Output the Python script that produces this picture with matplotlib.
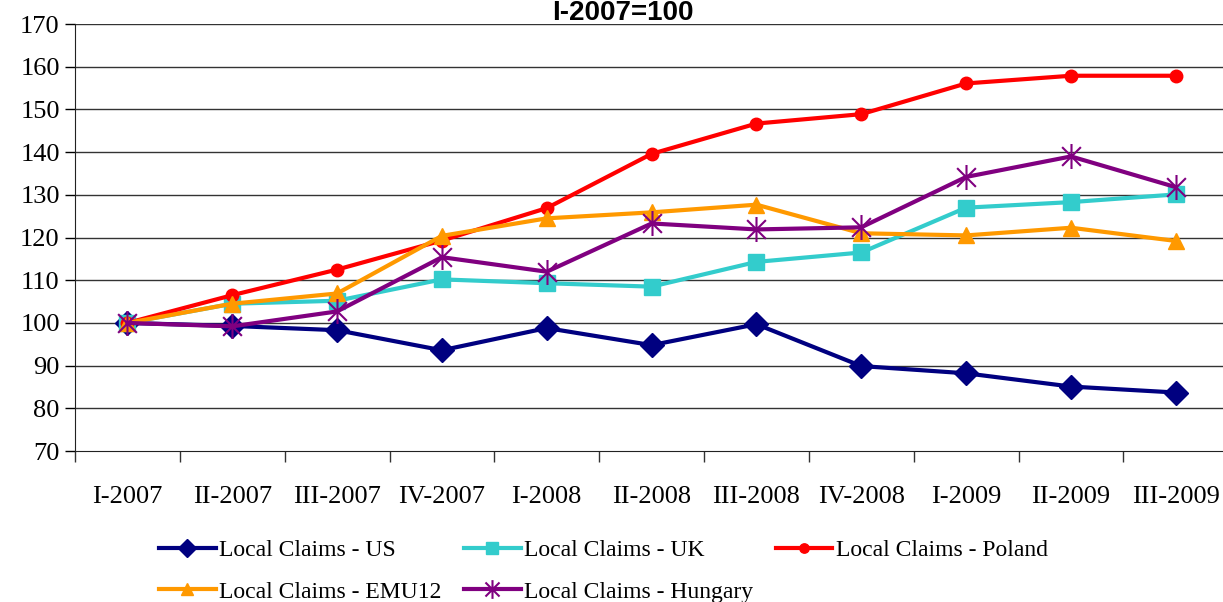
import matplotlib
matplotlib.use("Agg")
import matplotlib.pyplot as plt
from matplotlib.path import Path

categories = ["I-2007", "II-2007", "III-2007", "IV-2007", "I-2008", "II-2008",
              "III-2008", "IV-2008", "I-2009", "II-2009", "III-2009"]
us = [100, 99.3, 98.3, 93.6, 98.8, 94.8, 99.7, 89.9, 88.2, 85.1, 83.7]
uk = [100, 104.5, 105.2, 110.2, 109.3, 108.5, 114.3, 116.5, 127.0, 128.3, 130.1]
poland = [100, 106.5, 112.5, 119.3, 126.9, 139.6, 146.7, 148.9, 156.1, 157.9, 157.9]
emu12 = [100, 104.5, 106.9, 120.4, 124.5, 125.9, 127.7, 121.0, 120.5, 122.3, 119.2]
hungary = [100, 99.2, 102.7, 115.4, 112.0, 123.3, 121.9, 122.4, 134.2, 139.0, 131.8]
labels = ["Local Claims - US", "Local Claims - UK", "Local Claims - Poland",
          "Local Claims - EMU12", "Local Claims - Hungary"]
title = "I-2007=100"

star = Path([(0, -1), (0, 1), (-0.75, -0.75), (0.75, 0.75), (-0.75, 0.75), (0.75, -0.75)],
            [Path.MOVETO, Path.LINETO, Path.MOVETO, Path.LINETO, Path.MOVETO, Path.LINETO])

fig = plt.figure(figsize=(12.23, 6.02), dpi=100)
ax = fig.add_axes([0.0613, 0.2508, 0.943, 0.7092])

x = list(range(len(categories)))
lw = 3
h_us, = ax.plot(x, us, color="#000080", lw=lw, marker="D", ms=12, label=labels[0], zorder=3)
h_uk, = ax.plot(x, uk, color="#33CCCC", lw=lw, marker="s", ms=11, label=labels[1], zorder=3)
h_pl, = ax.plot(x, poland, color="#FF0000", lw=lw, marker="o", ms=9, label=labels[2], zorder=3)
h_emu, = ax.plot(x, emu12, color="#FF9900", lw=lw, marker="^", ms=11, label=labels[3], zorder=3)
h_hu, = ax.plot(x, hungary, color="#800080", lw=lw, marker=star, ms=18, mew=1.5, label=labels[4], zorder=3)

ax.set_xlim(-0.5, 10.45)
ax.set_ylim(70, 170)
ax.set_yticks(range(70, 171, 10))
for v in range(80, 171, 10):
    ax.axhline(v, color="#333333", lw=1, zorder=1)

ax.set_xticks(x)
ax.set_xticklabels(categories)
ax.set_xticks([i - 0.5 for i in range(len(categories) + 1)], minor=True)
ax.tick_params(axis="x", which="major", length=0, pad=25)
ax.tick_params(axis="x", which="minor", length=8, width=1, direction="out", color="#333333")
ax.tick_params(axis="y", length=7, width=1, direction="out", pad=4)
for lab in ax.get_xticklabels() + ax.get_yticklabels():
    lab.set_fontfamily("Liberation Serif")
    lab.set_fontsize(19)

ax.spines["top"].set_visible(False)
ax.spines["right"].set_visible(False)
ax.spines["left"].set_color("#222222")
ax.spines["bottom"].set_color("#222222")

fig.text(0.509, 1 - 20 / 602, title, ha="center", va="baseline",
         fontfamily="Liberation Sans", fontweight="bold", fontsize=20)

handles = [h_us, h_emu, h_uk, h_hu, h_pl]
leg = fig.legend(handles, [h.get_label() for h in handles], ncol=3,
                 loc="upper left", bbox_to_anchor=(0.130, 0.104),
                 frameon=False, prop={"family": "Liberation Serif", "size": 17},
                 handlelength=2.4, handletextpad=0.15, columnspacing=0.95,
                 labelspacing=0.85, borderaxespad=0, borderpad=0, markerscale=0.75)

fig.savefig("out.png", dpi=100)
